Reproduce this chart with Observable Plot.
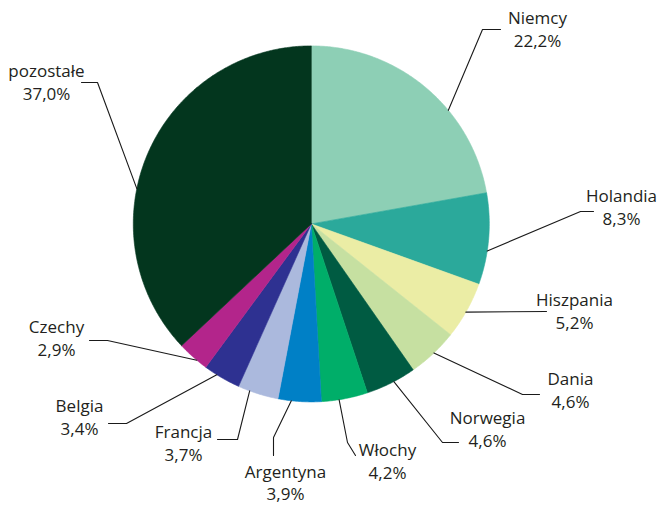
<!DOCTYPE html>
<html>
<head>
<meta charset="utf-8">
<script src="https://cdn.jsdelivr.net/npm/d3@7"></script>
<script src="https://cdn.jsdelivr.net/npm/@observablehq/plot@0.6"></script>
<style>
  html, body { margin: 0; padding: 0; background: #ffffff; }
  #chart svg { display: block; }
</style>
</head>
<body>
<div id="chart"></div>
<script>
// ---- data ----
const countries = ["Niemcy", "Holandia", "Hiszpania", "Dania", "Norwegia", "Włochy", "Argentyna", "Francja", "Belgia", "Czechy", "pozostałe"];
const shares = [22.2, 8.3, 5.2, 4.6, 4.6, 4.2, 3.9, 3.7, 3.4, 2.9, 37.0];
const colors = ["#8dcfb5", "#2ba99b", "#ebeda5", "#c6e0a1", "#005b42", "#00ae69", "#0080c6", "#abb9dd", "#2e3191", "#b3258b", "#03361e"];

// ---- layout (label placement) ----
const W = 659, H = 506;
const cx = 310.8, cy = 223.4, R = 178;
const anchorFrac = [0.63, 0.63, 0.53, 0.48, 0.44, 0.62, 0.69, 0.71, 0.65, 0.35, 0.41];
const elbows = [[482, 29], [580, 211], [546, 311], [522, 394], [442, 442], [347, 442], [273, 437], [237, 439], [126, 423], [107, 340], [97, 82]];
const ends = [[500, 29], [593, 211], [546, 311], [539, 394], [458, 442], [355, 455], [273, 455], [217, 439], [108, 423], [89, 340], [81, 82]];
const labelX = [537, 621, 574, 570, 487, 387, 285, 183, 79, 56, 46];
const labelBase = [23, 201, 305, 384, 423, 455, 477, 437, 411, 332, 76];
const lineGap = [23.5, 23.5, 23.5, 23.5, 23.5, 23.5, 22, 23.5, 23.5, 23.5, 23.5];

const fmt = v => d3.format(".1f")(v).replace(".", ",") + "%";

// slice angles from shares (clockwise from 12 o'clock)
const total = d3.sum(shares);
let acc = 0;
const slices = countries.map((name, i) => {
  const a0 = acc / total * 2 * Math.PI;
  acc += shares[i];
  const a1 = acc / total * 2 * Math.PI;
  return {name, share: shares[i], a0, a1};
});
const pt = a => [cx + R * Math.sin(a), cy - R * Math.cos(a)];

// polygon points for each slice
const slicePts = [];
for (const s of slices) {
  slicePts.push({name: s.name, x: cx, y: cy});
  const n = Math.max(2, Math.ceil((s.a1 - s.a0) / (Math.PI / 360)));
  for (let k = 0; k <= n; k++) {
    const [x, y] = pt(s.a0 + (s.a1 - s.a0) * k / n);
    slicePts.push({name: s.name, x, y});
  }
  slicePts.push({name: s.name, x: cx, y: cy});
}

// leader lines
const leaderPts = [];
slices.forEach((s, i) => {
  const [x0, y0] = pt(s.a0 + (s.a1 - s.a0) * anchorFrac[i]);
  leaderPts.push({name: s.name, x: x0, y: y0});
  leaderPts.push({name: s.name, x: elbows[i][0], y: elbows[i][1]});
  leaderPts.push({name: s.name, x: ends[i][0], y: ends[i][1]});
});

const labels = slices.map((s, i) => ({
  name: s.name, value: fmt(s.share), x: labelX[i], y1: labelBase[i], y2: labelBase[i] + lineGap[i]
}));

const chart = Plot.plot({
  width: W,
  height: H,
  margin: 0,
  x: {domain: [0, W], range: [0, W], axis: null},
  y: {domain: [0, H], range: [0, H], axis: null},
  color: {domain: countries, range: colors},
  style: {fontFamily: "'Open Sans', sans-serif", background: "#ffffff"},
  marks: [
    Plot.line(slicePts, {x: "x", y: "y", z: "name", fill: "name", stroke: "name", strokeWidth: 0.6, curve: "linear"}),
    Plot.line(leaderPts, {x: "x", y: "y", z: "name", stroke: "#1a1a1a", strokeWidth: 1.1, curve: "linear"}),
    Plot.text(labels, {x: "x", y: "y1", text: "name", textAnchor: "middle", lineAnchor: "bottom", fontSize: 17, fill: "#231f20"}),
    Plot.text(labels, {x: "x", y: "y2", text: "value", textAnchor: "middle", lineAnchor: "bottom", fontSize: 17, fill: "#231f20"})
  ]
});
document.getElementById("chart").appendChild(chart);
</script>
</body>
</html>
